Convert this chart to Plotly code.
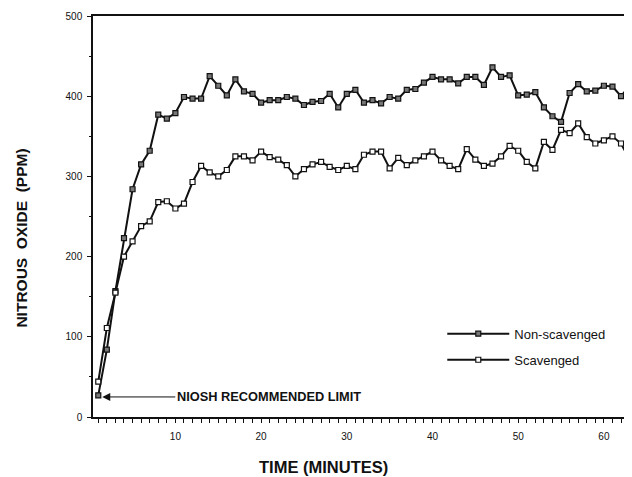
import plotly.graph_objects as go

time_min = list(range(1, 65))
non_scavenged = [27, 84, 157, 223, 284, 315, 332, 377, 372, 379,
                 399, 397, 397, 425, 413, 401, 421, 406, 403, 392,
                 395, 395, 399, 397, 389, 393, 394, 403, 386, 403,
                 408, 392, 395, 391, 399, 397, 408, 409, 417, 424,
                 421, 421, 416, 424, 424, 414, 436, 424, 426, 401,
                 402, 405, 386, 375, 368, 404, 415, 406, 407, 413,
                 412, 400, 413, 420]
scavenged = [44, 111, 155, 200, 219, 238, 244, 268, 269, 260,
             266, 293, 313, 305, 300, 308, 325, 325, 320, 331,
             324, 321, 314, 300, 309, 315, 318, 312, 308, 313,
             309, 327, 331, 331, 310, 323, 314, 320, 325, 331,
             320, 313, 309, 334, 321, 313, 316, 325, 338, 332,
             318, 310, 343, 333, 358, 354, 366, 349, 341, 345,
             350, 341, 321, 380]
y_ticks = [0, 100, 200, 300, 400, 500]
x_ticks = [10, 20, 30, 40, 50, 60]
niosh_limit = 25

FONT = "Liberation Sans, Arial, Helvetica, sans-serif"

fig = go.Figure()
fig.add_trace(go.Scatter(
    x=time_min, y=non_scavenged, name="Non-scavenged", mode="lines+markers",
    line=dict(color="#111111", width=2),
    marker=dict(symbol="square", size=5, color="#777777",
                line=dict(color="#111111", width=1.2)),
    legend="legend", showlegend=True))
fig.add_trace(go.Scatter(
    x=time_min, y=scavenged, name="Scavenged", mode="lines+markers",
    line=dict(color="#111111", width=2),
    marker=dict(symbol="square", size=5, color="white",
                line=dict(color="#111111", width=1.2)),
    legend="legend2", showlegend=True))

fig.add_annotation(
    x=1, y=niosh_limit, xref="x", yref="y",
    text="<b>NIOSH RECOMMENDED LIMIT</b>",
    showarrow=True, ax=77, ay=0, xanchor="left", yanchor="middle",
    arrowhead=2, arrowsize=1.6, arrowwidth=1, arrowcolor="#111111",
    standoff=4, font=dict(family=FONT, size=12.8, color="#111111"))

fig.add_annotation(
    x=-0.1317, y=0.445, xref="paper", yref="paper", xanchor="center", yanchor="middle",
    text="<b>NITROUS&nbsp; OXIDE&nbsp; (PPM)</b>", textangle=-90, showarrow=False,
    font=dict(family=FONT, size=15.5, color="#111111"))
fig.add_annotation(
    x=0.428, y=-0.125, xref="paper", yref="paper", xanchor="center", yanchor="middle",
    text="<b>TIME (MINUTES)</b>", showarrow=False,
    font=dict(family=FONT, size=16.5, color="#111111"))

fig.update_layout(
    width=624, height=469,
    margin=dict(l=85, r=0, t=8, b=60),
    paper_bgcolor="white", plot_bgcolor="white",
    showlegend=True,
    font=dict(family=FONT, size=10, color="#111111"),
    legend=dict(x=0.648, y=0.245, xanchor="left", yanchor="top",
                itemwidth=62, bgcolor="rgba(0,0,0,0)",
                font=dict(family=FONT, size=13, color="#111111")),
    legend2=dict(x=0.648, y=0.18, xanchor="left", yanchor="top",
                 itemwidth=62, bgcolor="rgba(0,0,0,0)",
                 font=dict(family=FONT, size=13, color="#111111")),
    xaxis=dict(range=[0.385, 63.28], tickmode="array", tickvals=x_ticks,
               ticktext=[str(v) for v in x_ticks],
               showgrid=False, zeroline=False, showline=True, linecolor="#111111",
               linewidth=1.5, mirror=True, ticks="outside", ticklen=4,
               tickcolor="#111111", ticklabelstandoff=5,
               tickfont=dict(family=FONT, size=10, color="#111111"),
               minor=dict(dtick=1, tick0=0, ticks="outside", ticklen=4,
                          tickcolor="#111111", showgrid=False)),
    yaxis=dict(range=[0, 500], tickmode="array", tickvals=y_ticks,
               ticktext=[str(v) for v in y_ticks],
               showgrid=False, zeroline=False, showline=True, linecolor="#111111",
               linewidth=1.5, ticks="outside", ticklen=4, tickcolor="#111111",
               ticklabelstandoff=3,
               tickfont=dict(family=FONT, size=10, color="#111111"),
               minor=dict(dtick=50, tick0=0, ticks="outside", ticklen=2,
                          tickcolor="#111111", showgrid=False)),
)

fig.write_html("out.html")
